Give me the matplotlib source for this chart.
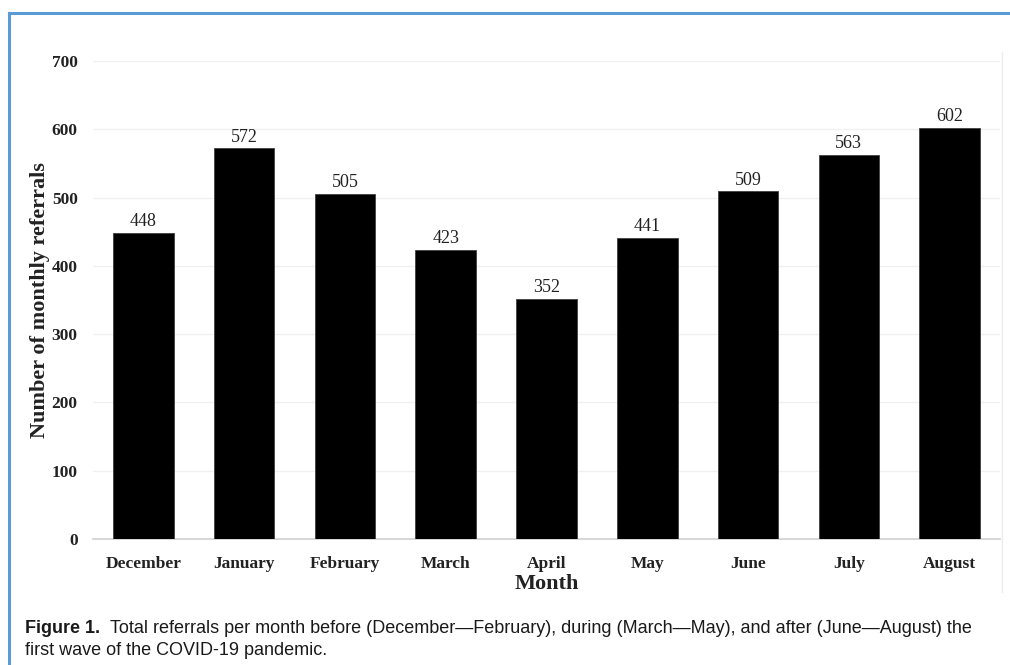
import matplotlib
matplotlib.use("Agg")
import matplotlib.pyplot as plt
from matplotlib.lines import Line2D

# ─── Data ────────────────────────────────────────────────────────────────────
months = ["December", "January", "February", "March", "April",
          "May", "June", "July", "August"]
referrals = [448, 572, 505, 423, 352, 441, 509, 563, 602]
y_ticks = [0, 100, 200, 300, 400, 500, 600, 700]
# ─────────────────────────────────────────────────────────────────────────────

W, H = 1010, 665
fig = plt.figure(figsize=(W / 100, H / 100), dpi=100)
ax = fig.add_axes([93 / W, (H - 539) / H, (1000 - 93) / W, (539 - 61) / H])

serif = "Liberation Serif"
x = range(len(months))
bars = ax.bar(x, referrals, width=0.6, color="black", edgecolor="#404040",
              linewidth=0.6, zorder=3)
for xi, v in zip(x, referrals):
    ax.text(xi, v + 4, str(v), ha="center", va="bottom",
            fontsize=13, family=serif, color="#222222")

ax.set_xlim(-0.5, len(months) - 0.5)
ax.set_ylim(0, 700)
ax.set_yticks(y_ticks)
ax.set_xticks(list(x))
ax.set_xticklabels(months)
for lab in ax.get_xticklabels() + ax.get_yticklabels():
    lab.set_family(serif)
    lab.set_fontweight("bold")
    lab.set_fontsize(12.5)
    lab.set_color("#222222")
ax.tick_params(axis="both", length=0)
ax.tick_params(axis="y", pad=11)
ax.tick_params(axis="x", pad=12)

ax.grid(axis="y", color="#f0f0f0", linewidth=1, zorder=0)
for s in ["top", "right", "left"]:
    ax.spines[s].set_visible(False)
ax.spines["bottom"].set_color("#d0d0d0")
ax.spines["bottom"].set_linewidth(1.2)

ax.set_xlabel("Month", family=serif, fontweight="bold", fontsize=16,
              color="#222222", labelpad=2)
ax.set_ylabel("Number of monthly referrals", family=serif, fontweight="bold",
              fontsize=16, color="#222222", labelpad=1)

# faint chart-area border (right side)
fig.add_artist(Line2D([1002 / W, 1002 / W], [(H - 592) / H, (H - 52) / H],
                      color="#ececec", linewidth=1))

# blue frame (top and left)
blue = "#5b9bd5"
fig.add_artist(Line2D([9 / W, 1.0], [(H - 12.5) / H, (H - 12.5) / H],
                      color=blue, linewidth=2.2))
fig.add_artist(Line2D([9 / W, 9 / W], [0, (H - 12.5) / H],
                      color=blue, linewidth=2.2))

# caption
cap_font = "Liberation Sans"
t1 = fig.text(25 / W, (H - 633) / H, "Figure 1.", fontsize=13,
              family=cap_font, fontweight="bold", color="#1a1a1a",
              va="baseline")
fig.canvas.draw()
bb = t1.get_window_extent()
fig.text((bb.x1 + 10) / W, (H - 633) / H,
         "Total referrals per month before (December\u2014February), during "
         "(March\u2014May), and after (June\u2014August) the",
         fontsize=13, family=cap_font, color="#1a1a1a", va="baseline")
fig.text(25 / W, (H - 655) / H, "first wave of the COVID-19 pandemic.",
         fontsize=13, family=cap_font, color="#1a1a1a", va="baseline")

fig.savefig("out.png", dpi=100)
